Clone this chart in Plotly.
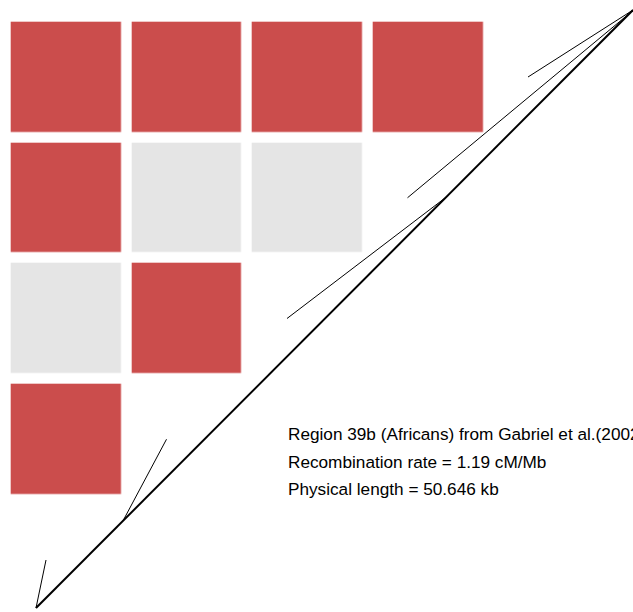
import numpy as np
import plotly.graph_objects as go

# ---------------- data ----------------
snp_labels = ["SNP1", "SNP2", "SNP3", "SNP4", "SNP5"]
snp_pos_kb = [0.0, 7.38, 34.8, 50.40, 50.646]
physical_length_kb = 50.646
recomb_rate = 1.19
# LD category for each pair (row i, column j); 1 = strong LD (red), 0 = weak (grey), None = empty
ld_matrix = [
    [1, 1, 1, 1],
    [1, 0, 0, None],
    [0, 1, None, None],
    [1, None, None, None],
]
info_lines = [
    "Region 39b (Africans) from Gabriel et al.(2002)",
    f"Recombination rate = {recomb_rate} cM/Mb",
    f"Physical length = {physical_length_kb} kb",
]

# ---------------- geometry (page-pixel axes) ----------------
W, H = 633, 612
PITCH = 120.67
CELL = 110.0
X0 = 11 + CELL / 2
Y0 = 22 + CELL / 2
n = len(ld_matrix)
cx = X0 + PITCH * np.arange(n)
cy = Y0 + PITCH * np.arange(n)

# matrix diagonal anchor points for each SNP
MD_START = np.array([46.0, 560.0])
MD_STEP = np.array([120.5, -120.75])
# physical-position line
PL_START = np.array([36.0, 608.0])
PL_END = np.array([633.0, 10.0])

fig = go.Figure()

fig.add_trace(go.Heatmap(
    z=ld_matrix, x=cx, y=cy,
    xgap=PITCH - CELL, ygap=PITCH - CELL,
    zmin=0, zmax=1,
    colorscale=[[0, "#e5e5e5"], [1, "#cb4d4c"]],
    showscale=False, hoverinfo="skip",
))

# physical line
fig.add_trace(go.Scatter(
    x=[PL_START[0], PL_END[0]], y=[PL_START[1], PL_END[1]],
    mode="lines", line=dict(color="black", width=2),
    hoverinfo="skip", showlegend=False, cliponaxis=False,
))

# connector segments
for k, pos in enumerate(snp_pos_kb):
    t = pos / physical_length_kb
    p = PL_START + t * (PL_END - PL_START)
    m = MD_START + k * MD_STEP
    fig.add_trace(go.Scatter(
        x=[m[0], p[0]], y=[m[1], p[1]],
        mode="lines", line=dict(color="black", width=1),
        hoverinfo="skip", showlegend=False,
    ))

for i, txt in enumerate(info_lines):
    fig.add_annotation(
        x=286, y=434 + 27.5 * i, xref="x", yref="y",
        text=txt, showarrow=False, xanchor="left", yanchor="middle",
        font=dict(family="Liberation Sans, Arial, sans-serif", size=17.2, color="black"),
    )

fig.update_layout(
    width=W, height=H,
    margin=dict(l=0, r=0, t=0, b=0),
    paper_bgcolor="white", plot_bgcolor="white",
    xaxis=dict(range=[0, W], visible=False, fixedrange=True),
    yaxis=dict(range=[H, 0], visible=False, fixedrange=True),
    showlegend=False,
)

fig.write_html(
    "out.html",
    config={"displayModeBar": False, "staticPlot": True},
    post_script="document.body.style.margin='0px';document.body.style.overflow='hidden';",
)
